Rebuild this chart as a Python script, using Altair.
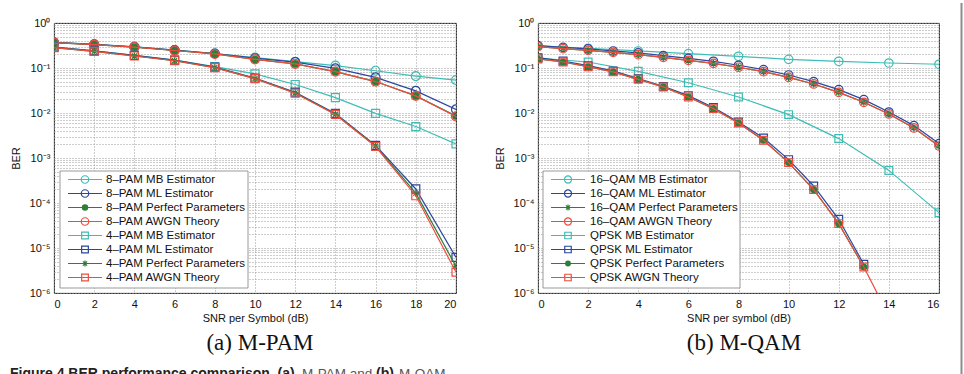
import altair as alt
import pandas as pd

SANS = "Liberation Sans"
SERIF = "Liberation Serif"

MB_COLOR = "#3dbdb5"
ML_COLOR = "#2a46a0"
PERFECT_COLOR = "#2f7d3a"
THEORY_COLOR = "#ef4c3c"
ASTERISK = "M-1,0L1,0M0,-1L0,1M-0.7,-0.7L0.7,0.7M-0.7,0.7L0.7,-0.7"

# ---------------- M-PAM results ----------------
snr_pam = [0, 2, 4, 6, 8, 10, 12, 14, 16, 18, 20]
pam8_mb = [0.37, 0.335, 0.295, 0.25, 0.21, 0.17, 0.138, 0.113, 0.087, 0.066, 0.054]
pam8_ml = [0.37, 0.335, 0.295, 0.25, 0.21, 0.165, 0.135, 0.098, 0.062, 0.031, 0.012]
pam8_perfect = [0.365, 0.33, 0.29, 0.245, 0.205, 0.156, 0.123, 0.083, 0.05, 0.024, 0.0086]
pam8_theory = [0.365, 0.33, 0.29, 0.245, 0.205, 0.156, 0.123, 0.083, 0.05, 0.024, 0.0084]
pam4_mb = [0.29, 0.24, 0.19, 0.15, 0.107, 0.074, 0.043, 0.022, 0.0098, 0.005, 0.00205]
pam4_ml = [0.29, 0.24, 0.19, 0.15, 0.105, 0.06, 0.029, 0.0098, 0.0019, 2.05e-4, 6.2e-6]
pam4_perfect = [0.285, 0.235, 0.185, 0.145, 0.102, 0.058, 0.028, 0.0094, 0.00185, 1.65e-4, 3.9e-6]
pam4_theory = [0.285, 0.235, 0.185, 0.145, 0.102, 0.058, 0.0275, 0.0093, 0.0018, 1.45e-4, 2.9e-6]

# ---------------- M-QAM results ----------------
snr_qam = list(range(0, 17))
snr_qam_even = [0, 2, 4, 6, 8, 10, 12, 14, 16]
qam16_mb = [0.31, 0.275, 0.239, 0.209, 0.182, 0.156, 0.141, 0.129, 0.121]
qam16_ml = [0.314, 0.288, 0.265, 0.239, 0.216, 0.188, 0.164, 0.141, 0.115, 0.092,
            0.070, 0.0498, 0.033, 0.0198, 0.0105, 0.00524, 0.00209]
qam16_perfect = [0.298, 0.269, 0.247, 0.223, 0.198, 0.173, 0.148, 0.127, 0.104, 0.083,
                 0.062, 0.0442, 0.0288, 0.0173, 0.00952, 0.00465, 0.00185]
qam16_theory = [0.298, 0.269, 0.247, 0.223, 0.198, 0.173, 0.148, 0.127, 0.104, 0.083,
                0.062, 0.0442, 0.0288, 0.0173, 0.00952, 0.00465, 0.00185]
snr_qpsk_sim = list(range(0, 14))
snr_qpsk_theory = list(range(0, 15))
qpsk_mb = [0.165, 0.136, 0.0845, 0.047, 0.0227, 0.0092, 0.0027, 5.3e-4, 6.1e-5]
qpsk_ml = [0.17, 0.143, 0.113, 0.086, 0.058, 0.039, 0.0243, 0.0132, 0.0063, 0.00279,
           9.2e-4, 2.39e-4, 4.35e-5, 4.35e-6]
qpsk_perfect = [0.159, 0.136, 0.107, 0.082, 0.056, 0.038, 0.0227, 0.0125, 0.006, 0.00247,
                7.9e-4, 1.98e-4, 3.48e-5, 3.79e-6]
qpsk_theory = [0.159, 0.136, 0.107, 0.082, 0.056, 0.038, 0.0227, 0.0125, 0.006, 0.00247,
               7.9e-4, 1.98e-4, 3.48e-5, 3.79e-6, 3.1e-7]

pam_labels = ["8–PAM MB Estimator", "8–PAM ML Estimator", "8–PAM Perfect Parameters",
              "8–PAM AWGN Theory", "4–PAM MB Estimator", "4–PAM ML Estimator",
              "4–PAM Perfect Parameters", "4–PAM AWGN Theory"]
qam_labels = ["16–QAM MB Estimator", "16–QAM ML Estimator", "16–QAM Perfect Parameters",
              "16–QAM AWGN Theory", "QPSK MB Estimator", "QPSK ML Estimator",
              "QPSK Perfect Parameters", "QPSK AWGN Theory"]

caption_parts = [
    ("Figure 4 BER performance comparison. (a)", "bold", "#222", 14, -44),
    ("M-PAM and", "normal", "#555", 13.5, 248),
    ("(b)", "bold", "#222", 14, 322),
    ("M-QAM", "normal", "#555", 13.5, 345),
]

PLOT_W = 402
PLOT_H = 270
LEGEND_FONT = 11.5

decades = [1e-6, 1e-5, 1e-4, 1e-3, 1e-2, 1e-1, 1.0]
y_grid_values = [m * d for d in decades[:-1] for m in range(1, 10)] + [1.0]
sup_expr = ("abs(log(datum.value)/LN10 - round(log(datum.value)/LN10)) < 0.001 ? "
            "'10' + ['⁻⁶','⁻⁵','⁻⁴','⁻³','⁻²','⁻¹','⁰'][round(log(datum.value)/LN10) + 6] : ''")


def one_row():
    return alt.Chart(pd.DataFrame({"k": [0]}))


def panel(series, labels, xmax, xtitle, subtitle, legend_box, legend_line, text_x):
    x_enc = alt.X(
        "snr:Q",
        scale=alt.Scale(domain=[0, xmax], nice=False, zero=False),
        axis=alt.Axis(values=list(range(0, xmax + 1, 2)), title=xtitle, grid=True,
                      gridDash=[1, 2], gridColor="#9a9a9a", ticks=False, domain=False,
                      labelFont=SANS, labelFontSize=11, labelColor="#111",
                      labelPadding=5, titleFont=SANS, titleFontSize=11,
                      titleFontWeight="normal", titleColor="#111", titlePadding=3),
    )
    y_enc = alt.Y(
        "ber:Q",
        scale=alt.Scale(type="log", domain=[1e-6, 1], nice=False),
        axis=alt.Axis(values=y_grid_values, labelExpr=sup_expr, title="BER", grid=True,
                      gridDash=[1, 2], gridColor="#9a9a9a", ticks=False, domain=False,
                      labelFont=SANS, labelFontSize=11, labelColor="#111",
                      labelPadding=4, titleFont=SANS, titleFontSize=11,
                      titleFontWeight="normal", titleColor="#111", titlePadding=8),
    )
    layers = []
    for xs, ys, color, shape, filled, size in series:
        df = pd.DataFrame({"snr": xs, "ber": ys})
        base = alt.Chart(df).encode(x=x_enc, y=y_enc)
        layers.append(base.mark_line(color=color, strokeWidth=1.2, clip=True))
        layers.append(base.mark_point(shape=shape, filled=filled, color=color, size=size,
                                      strokeWidth=1.2, opacity=1, clip=True))

    # legend box and entries
    bx0, bx1, by0, by1 = legend_box
    layers.append(one_row().mark_rect(fill="white", stroke="#808080", strokeWidth=0.8).encode(
        x=alt.value(bx0), x2=alt.value(bx1), y=alt.value(by0), y2=alt.value(by1)))
    lx0, lx1 = legend_line
    for i, ((xs, ys, color, shape, filled, size), label) in enumerate(zip(series, labels)):
        ly = by0 + 8.5 + 14 * i
        layers.append(one_row().mark_rule(color=color, strokeWidth=1.2).encode(
            x=alt.value(lx0), x2=alt.value(lx1), y=alt.value(ly)))
        layers.append(one_row().mark_point(shape=shape, filled=filled, color=color,
                                           size=size * 0.7, strokeWidth=1.2, opacity=1).encode(
            x=alt.value((lx0 + lx1) / 2), y=alt.value(ly)))
        layers.append(one_row().mark_text(align="left", baseline="middle", font=SANS,
                                          fontSize=LEGEND_FONT, color="#111").encode(
            x=alt.value(text_x), y=alt.value(ly), text=alt.value(label)))

    layers.append(one_row().mark_text(align="center", baseline="middle", font=SERIF,
                                      fontSize=23, color="#111").encode(
        x=alt.value(PLOT_W / 2 + 5), y=alt.value(320), text=alt.value(subtitle)))
    return layers


pam_series = [
    (snr_pam, pam8_mb, MB_COLOR, "circle", False, 80),
    (snr_pam, pam8_ml, ML_COLOR, "circle", False, 80),
    (snr_pam, pam8_perfect, PERFECT_COLOR, "circle", True, 60),
    (snr_pam, pam8_theory, THEORY_COLOR, "circle", False, 80),
    (snr_pam, pam4_mb, MB_COLOR, "square", False, 64),
    (snr_pam, pam4_ml, ML_COLOR, "square", False, 64),
    (snr_pam, pam4_perfect, PERFECT_COLOR, ASTERISK, False, 50),
    (snr_pam, pam4_theory, THEORY_COLOR, "square", False, 64),
]
qam_series = [
    (snr_qam_even, qam16_mb, MB_COLOR, "circle", False, 72),
    (snr_qam, qam16_ml, ML_COLOR, "circle", False, 72),
    (snr_qam, qam16_perfect, PERFECT_COLOR, ASTERISK, False, 50),
    (snr_qam, qam16_theory, THEORY_COLOR, "circle", False, 72),
    (snr_qam_even, qpsk_mb, MB_COLOR, "square", False, 60),
    (snr_qpsk_sim, qpsk_ml, ML_COLOR, "square", False, 60),
    (snr_qpsk_sim, qpsk_perfect, PERFECT_COLOR, "circle", True, 50),
    (snr_qpsk_theory, qpsk_theory, THEORY_COLOR, "square", False, 60),
]

left_layers = panel(pam_series, pam_labels, 20, "SNR per Symbol (dB)", "(a) M-PAM",
                    (6, 194, 148, 265), (14, 48), 52)
# figure caption below both panels; the page ends partway through it
for text, weight, color, fsize, cx in caption_parts:
    left_layers.append(one_row().mark_text(align="left", baseline="top", font=SANS,
                                           fontSize=fsize, fontWeight=weight,
                                           color=color).encode(
        x=alt.value(cx), y=alt.value(344), text=alt.value(text)))

right_layers = panel(qam_series, qam_labels, 16, "SNR per symbol (dB)", "(b) M-QAM",
                     (5, 202, 148, 265), (13, 47), 52)
# page border on the right edge
right_layers.append(one_row().mark_rule(color="#8c8c8c", strokeWidth=2).encode(
    x=alt.value(423.5), y=alt.value(-20), y2=alt.value(360)))

left = alt.layer(*left_layers).properties(width=PLOT_W, height=PLOT_H)
right = alt.layer(*right_layers).properties(width=401, height=PLOT_H)

chart = alt.hconcat(left, right, spacing=36).properties(
    autosize=alt.AutoSizeParams(type="none"),
    padding={"left": 54, "top": 23, "right": 910, "bottom": 351},
    background="white",
).configure_view(stroke="#000", strokeWidth=0.9)

chart.save("out.html", embed_options={"renderer": "svg", "actions": False})
